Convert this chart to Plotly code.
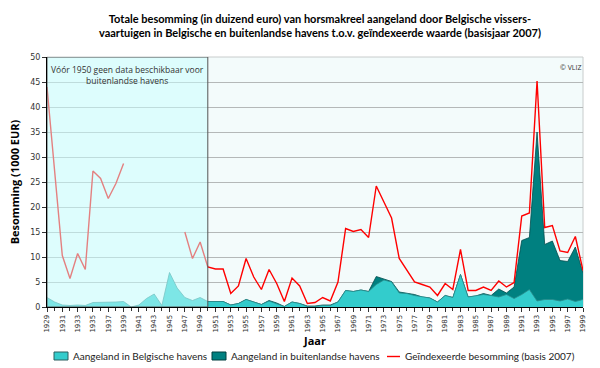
import plotly.graph_objects as go

years = list(range(1929, 2000))

belgian = [1.9, 1.0, 0.4, 0.3, 0.4, 0.3, 0.9, 0.9, 0.9, 1.0, 1.1,
           0.0, 0.4, 1.7, 2.6, 0.3, 6.9, 3.8, 1.9, 1.3, 1.9,
           1.1, 1.1, 1.1, 0.4, 0.7, 1.5, 1.0, 0.5, 1.2, 0.6,
           0.1, 1.0, 0.7, 0.1, 0.1, 0.3, 0.3, 1.0, 3.3, 3.1,
           3.4, 3.1, 4.5, 5.4, 5.0, 2.8, 2.7, 2.3, 2.0, 1.8,
           1.0, 2.3, 1.9, 6.5, 2.0, 2.2, 2.5, 2.3, 2.0, 2.5,
           1.7, 2.5, 3.5, 1.2, 1.5, 1.5, 1.2, 1.6, 1.1, 1.5]

foreign_years = list(range(1950, 2000))
foreign = [0.0, 0.0, 0.0, 0.0, 0.0, 0.0, 0.0, 0.0, 0.1, 0.2,
           0.0, 0.0, 0.0, 0.1, 0.1, 0.1, 0.1, 0.0, 0.0, 0.0,
           0.0, 0.0, 1.6, 0.2, 0.1, 0.2, 0.0, 0.2, 0.0, 0.0,
           0.0, 0.0, 0.0, 0.0, 0.0, 0.0, 0.2, 0.0, 1.6, 0.3,
           2.3, 10.8, 10.4, 33.8, 11.0, 11.7, 8.1, 7.5, 10.9, 5.3]

indexed = [44.0, 27.0, 10.3, 5.7, 10.7, 7.5, 27.2, 25.7, 21.7, 24.7, 28.7,
           None, None, None, None, None, None, None, 15.0, 9.7, 13.0,
           8.0, 7.6, 7.6, 2.7, 4.2, 9.7, 6.0, 3.5, 7.5, 4.7,
           1.1, 5.8, 4.2, 0.7, 0.9, 1.9, 1.2, 5.0, 15.7, 15.1,
           15.5, 13.9, 24.2, 21.0, 17.8, 9.7, 7.3, 5.0, 4.5, 4.0,
           2.3, 4.7, 3.5, 11.5, 3.3, 3.3, 4.0, 3.3, 5.2, 4.0,
           4.9, 18.2, 18.8, 45.2, 15.9, 16.3, 11.2, 10.9, 14.1, 7.3]

tick_years = list(range(1929, 2000, 2))

series_names = ["Aangeland in Belgische havens",
                "Aangeland in buitenlandse havens",
                "Geïndexeerde besomming (basis 2007)"]

title_text = ("Totale besomming (in duizend euro) van horsmakreel aangeland door Belgische vissers-<br>"
              "vaartuigen in Belgische en buitenlandse havens t.o.v. geïndexeerde waarde (basisjaar 2007)")
note_text = "Vóór 1950 geen data beschikbaar voor<br>buitenlandse havens"

W, H = 600, 368
ML, MR, MT, MB = 47, 17, 57, 61
PW, PH = W - ML - MR, H - MT - MB


def px(xp):
    return (xp - ML) / PW


def py(yp):
    return (H - MB - yp) / PH


# total (belgian + foreign) from 1950 on
offset = years.index(1950)
total = [belgian[offset + i] + f for i, f in enumerate(foreign)]

fig = go.Figure()

fig.add_trace(go.Scatter(
    x=foreign_years, y=total, mode="lines", fill="tozeroy",
    fillcolor="#008080", line=dict(color="#004d4d", width=0.8),
    name=series_names[1], showlegend=False))

fig.add_trace(go.Scatter(
    x=years, y=belgian, mode="lines", fill="tozeroy",
    fillcolor="#33cccc", line=dict(color="#2a8a8a", width=0.8),
    name=series_names[0], showlegend=False))

fig.add_trace(go.Scatter(
    x=years, y=indexed, mode="lines", connectgaps=False,
    line=dict(color="#ff0000", width=1.4),
    name=series_names[2], showlegend=False))

# overlay for the pre-1950 period
fig.add_shape(type="rect", xref="x", yref="y", x0=1929, x1=1950, y0=0, y1=50,
              fillcolor="rgba(200,255,255,0.5)", line=dict(color="#555555", width=1),
              layer="above")

fig.add_annotation(x=1939.5, y=49, xref="x", yref="y", text=note_text,
                   showarrow=False, yanchor="top",
                   font=dict(family="Open Sans", size=8.5, color="#333333"))

fig.add_annotation(x=1, y=0.985, xref="paper", yref="paper", text="© VLIZ",
                   showarrow=False, xanchor="right", yanchor="top",
                   font=dict(family="Open Sans", size=7, color="#333333"))

# title
fig.add_annotation(x=px(320), y=py(26), xref="paper", yref="paper", text=title_text,
                   showarrow=False, xanchor="center", yanchor="middle",
                   font=dict(family="Lato", size=11, color="black", weight="bold"))

# legend (drawn manually for exact placement)
leg_y = 356
leg_font = dict(family="Lato", size=10, color="#222222")
fig.add_shape(type="rect", xref="paper", yref="paper",
              x0=px(54), x1=px(68), y0=py(360), y1=py(352),
              fillcolor="#33cccc", line=dict(color="#2a5f5f", width=1))
fig.add_annotation(x=px(71), y=py(leg_y), xref="paper", yref="paper",
                   text=series_names[0], showarrow=False, xanchor="left",
                   yanchor="middle", font=leg_font)
fig.add_shape(type="rect", xref="paper", yref="paper",
              x0=px(212), x1=px(226), y0=py(360), y1=py(352),
              fillcolor="#008080", line=dict(color="#003f3f", width=1))
fig.add_annotation(x=px(229), y=py(leg_y), xref="paper", yref="paper",
                   text=series_names[1], showarrow=False, xanchor="left",
                   yanchor="middle", font=leg_font)
fig.add_shape(type="line", xref="paper", yref="paper",
              x0=px(387), x1=px(400), y0=py(356.5), y1=py(356.5),
              line=dict(color="#ff0000", width=1.4))
fig.add_annotation(x=px(403), y=py(leg_y), xref="paper", yref="paper",
                   text=series_names[2], showarrow=False, xanchor="left",
                   yanchor="middle", font=leg_font)

fig.update_layout(
    width=W, height=H,
    margin=dict(l=ML, r=MR, t=MT, b=MB, autoexpand=False),
    paper_bgcolor="white",
    plot_bgcolor="#f3fbfb",
    showlegend=False,
    hovermode=False,
    xaxis=dict(range=[1929, 1999], tickmode="array", tickvals=tick_years,
               ticktext=[str(y) for y in tick_years], tickangle=-90,
               ticks="outside", ticklen=4, tickcolor="#333333",
               minor=dict(dtick=1, tick0=1929, ticks="outside", ticklen=3, tickcolor="#333333"),
               showgrid=False, showline=True, linecolor="black", linewidth=1,
               tickfont=dict(family="DejaVu Sans", size=7, color="#333333"),
               title=dict(text="Jaar", standoff=2,
                          font=dict(family="Open Sans", size=11, color="black", weight="bold")),
               automargin=False, zeroline=False),
    yaxis=dict(range=[0, 50], dtick=5, tick0=0, ticks="outside", ticklen=4,
               tickcolor="#333333", showgrid=True, gridcolor="#b4b8b8", gridwidth=1,
               showline=True, linecolor="black", linewidth=1, zeroline=False,
               automargin=False,
               tickfont=dict(family="DejaVu Sans", size=8, color="#333333"),
               title=dict(text="Besomming (1000 EUR)", standoff=8,
                          font=dict(family="Open Sans", size=11, color="black", weight="bold"))),
)

# light frame on top/right
fig.add_shape(type="line", xref="paper", yref="paper", x0=0, x1=1, y0=1, y1=1,
              line=dict(color="#c8cccc", width=1), layer="below")
fig.add_shape(type="line", xref="paper", yref="paper", x0=1, x1=1, y0=0, y1=1,
              line=dict(color="#c8cccc", width=1), layer="below")

fig.write_html("out.html",
               config={"displayModeBar": False, "staticPlot": True},
               post_script="document.body.style.margin='0';document.body.style.padding='0';")
